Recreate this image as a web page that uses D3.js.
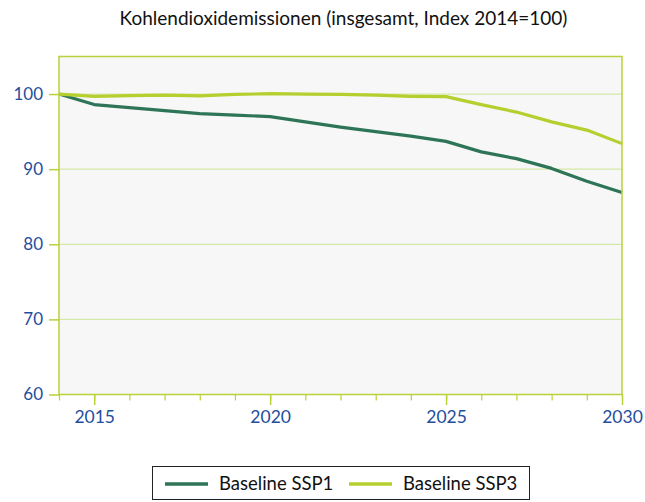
<!DOCTYPE html>
<html><head><meta charset="utf-8">
<script src="https://cdn.jsdelivr.net/npm/d3@7"></script>
<style>body{margin:0;background:#fff}svg{display:block}</style>
</head><body>
<script>
const years = [2014,2015,2016,2017,2018,2019,2020,2021,2022,2023,2024,2025,2026,2027,2028,2029,2030];
const ssp1 = [100,98.6,98.2,97.8,97.4,97.2,97.0,96.3,95.6,95.0,94.4,93.7,92.3,91.4,90.1,88.4,86.9];
const ssp3 = [100,99.7,99.8,99.85,99.75,99.95,100.05,100.0,99.95,99.85,99.7,99.65,98.6,97.6,96.3,95.2,93.4];
const yTicks = [60,70,80,90,100];
const xTicks = [2015,2020,2025,2030];
const seriesNames = ["Baseline SSP1","Baseline SSP3"];
const colors = ["#2e7558","#b5cf2f"];
const title = "Kohlendioxidemissionen (insgesamt, Index 2014=100)";

const FONT="Lato, sans-serif";
const W=645,H=502;
const svg=d3.select("body").append("svg").attr("width",W).attr("height",H);
const L=59,R=622,T=56.5,B=394.5;
const x=d3.scaleLinear().domain([2014,2030]).range([L,R]);
const y=d3.scaleLinear().domain([60,105]).range([B,T]);

svg.append("text").attr("x",343.5).attr("y",25).attr("text-anchor","middle")
  .attr("font-family",FONT).attr("font-size",19).attr("fill","#111").text(title);

svg.append("rect").attr("x",L).attr("y",T).attr("width",R-L).attr("height",B-T).attr("fill","#f7f7f7");
// grid
svg.append("g").selectAll("line").data(yTicks.filter(d=>d>60)).join("line")
  .attr("x1",L).attr("x2",R).attr("y1",d=>y(d)).attr("y2",d=>y(d))
  .attr("stroke","#d6e8a6").attr("stroke-width",1.2);

// lines
const line=d3.line().x((d,i)=>x(years[i])).y(d=>y(d));
[ssp1,ssp3].forEach((s,i)=>{
  svg.append("path").datum(s).attr("d",line).attr("fill","none")
    .attr("stroke",colors[i]).attr("stroke-width",3.2).attr("stroke-linejoin","round");
});
// border
svg.append("rect").attr("x",L).attr("y",T).attr("width",R-L).attr("height",B-T)
  .attr("fill","none").attr("stroke","#b8d23a").attr("stroke-width",1.5);

// y axis
const ya=svg.append("g").attr("transform",`translate(${L},0)`)
  .call(d3.axisLeft(y).tickValues(yTicks).tickSize(10).tickPadding(6));
ya.select(".domain").remove();
ya.selectAll(".tick line").attr("stroke","#b8d23a").attr("stroke-width",1.5);
ya.selectAll(".tick text").attr("font-family",FONT).attr("font-size",17).attr("fill","#1f4e9c");

// x axis minor
const xm=svg.append("g").attr("transform",`translate(0,${B})`)
  .call(d3.axisBottom(x).tickValues(years).tickSize(6).tickFormat(""));
xm.select(".domain").remove();
xm.selectAll(".tick line").attr("stroke","#b8d23a").attr("stroke-width",1.2);
const xa=svg.append("g").attr("transform",`translate(0,${B})`)
  .call(d3.axisBottom(x).tickValues(xTicks).tickSize(10.5).tickPadding(6).tickFormat(d3.format("d")));
xa.select(".domain").remove();
xa.selectAll(".tick line").attr("stroke","#b8d23a").attr("stroke-width",1.5);
xa.selectAll(".tick text").attr("font-family",FONT).attr("font-size",17.5).attr("fill","#1f4e9c");

// legend
const lg=svg.append("g");
lg.append("rect").attr("x",152.5).attr("y",466.5).attr("width",377).attr("height",33)
  .attr("fill","#fff").attr("stroke","#222").attr("stroke-width",1);
const lx=[165,349];
seriesNames.forEach((n,i)=>{
  lg.append("line").attr("x1",lx[i]).attr("x2",lx[i]+43).attr("y1",484).attr("y2",484)
    .attr("stroke",colors[i]).attr("stroke-width",3.5);
  lg.append("text").attr("x",lx[i]+54).attr("y",490).attr("font-family",FONT)
    .attr("font-size",18.5).attr("fill","#111").text(n);
});
</script>
</body></html>
